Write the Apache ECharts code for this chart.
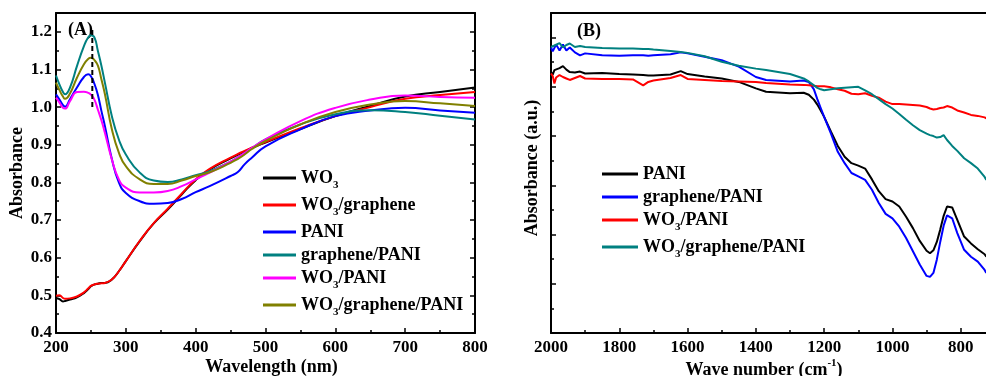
<!DOCTYPE html>
<html><head><meta charset="utf-8">
<script src="https://cdn.jsdelivr.net/npm/echarts@6/dist/echarts.min.js"></script>
<style>html,body{margin:0;padding:0;background:#fff}#c{width:986px;height:376px}</style>
</head><body><div id="c"></div>
<script>
// ---------- Panel A: UV-vis ----------
const wavelength = [200,205,210,213,220,230,240,246,250,255,260,265,270,280,290,300,320,340,360,380,400,420,450,460,470,480,500,550,600,650,700,750,800];
const aWO3 = [0.493,0.490,0.484,0.485,0.489,0.495,0.506,0.516,0.524,0.529,0.531,0.533,0.533,0.542,0.564,0.591,0.644,0.691,0.728,0.768,0.806,0.834,0.864,0.873,0.882,0.891,0.906,0.942,0.976,1.003,1.028,1.040,1.052];
const aWO3G = [0.499,0.500,0.493,0.491,0.492,0.497,0.508,0.518,0.525,0.529,0.531,0.532,0.533,0.542,0.564,0.591,0.645,0.692,0.730,0.770,0.808,0.836,0.866,0.875,0.884,0.892,0.907,0.944,0.976,1.000,1.022,1.032,1.040];
const aPANI = [1.034,1.020,1.005,1.001,1.021,1.052,1.080,1.087,1.082,1.062,1.032,0.990,0.950,0.862,0.800,0.772,0.750,0.743,0.745,0.756,0.774,0.790,0.817,0.827,0.848,0.865,0.896,0.941,0.976,0.991,0.998,0.991,0.985];
const aGPANI = [1.084,1.060,1.040,1.034,1.052,1.109,1.162,1.185,1.191,1.185,1.149,1.110,1.065,0.976,0.914,0.874,0.826,0.805,0.801,0.808,0.819,0.830,0.855,0.866,0.878,0.890,0.914,0.954,0.981,0.992,0.987,0.977,0.967];
const aWPANI = [1.025,1.012,0.998,0.996,1.016,1.040,1.041,1.038,1.033,1.020,0.993,0.965,0.932,0.861,0.808,0.786,0.773,0.773,0.777,0.790,0.808,0.826,0.855,0.866,0.878,0.891,0.914,0.963,0.998,1.020,1.031,1.027,1.025];
const aWGPANI = [1.065,1.045,1.028,1.022,1.036,1.078,1.114,1.128,1.131,1.125,1.110,1.074,1.035,0.941,0.879,0.843,0.808,0.796,0.796,0.805,0.817,0.827,0.852,0.862,0.874,0.888,0.910,0.954,0.987,1.007,1.016,1.010,1.003];
const dashLineX = [252,252];
const dashLineY = [1.0,1.205];
const namesA = ['WO3','WO3/graphene','PANI','graphene/PANI','WO3/PANI','WO3/graphene/PANI'];
const colorsA = ['#000000','#ff0000','#0000ff','#008080','#ff00ff','#808000'];

// ---------- Panel B: FTIR ----------
const wavenumber = [2000,1995,1990,1985,1975,1965,1955,1945,1930,1915,1900,1850,1800,1760,1730,1715,1700,1650,1620,1600,1550,1500,1450,1400,1370,1300,1260,1245,1230,1220,1210,1200,1180,1160,1140,1120,1100,1080,1060,1040,1020,1000,980,960,940,920,900,890,880,870,860,850,840,835,825,810,790,770,750,730,725];
const bPANI = [5.30,5.25,5.34,5.31,5.38,5.42,5.35,5.30,5.29,5.31,5.27,5.28,5.26,5.25,5.24,5.23,5.23,5.25,5.32,5.26,5.21,5.17,5.10,4.97,4.90,4.87,4.88,4.84,4.74,4.64,4.52,4.39,4.09,3.80,3.58,3.45,3.40,3.34,3.12,2.88,2.72,2.67,2.57,2.36,2.13,1.87,1.67,1.62,1.68,1.85,2.10,2.38,2.57,2.60,2.55,2.30,1.96,1.82,1.70,1.60,1.55];
const bGPANI = [5.80,5.72,5.76,5.86,5.74,5.86,5.74,5.80,5.70,5.64,5.68,5.64,5.63,5.64,5.64,5.63,5.64,5.66,5.70,5.68,5.61,5.54,5.41,5.20,5.14,5.11,5.13,5.10,4.95,4.75,4.57,4.39,4.05,3.68,3.45,3.25,3.18,3.11,2.91,2.64,2.42,2.33,2.16,1.93,1.66,1.39,1.16,1.14,1.22,1.49,1.85,2.18,2.39,2.43,2.33,2.03,1.69,1.55,1.45,1.28,1.22];
const bWPANI = [5.27,5.22,5.07,5.19,5.24,5.20,5.17,5.14,5.18,5.22,5.17,5.16,5.16,5.15,5.03,5.10,5.13,5.18,5.24,5.16,5.14,5.12,5.11,5.10,5.08,5.05,5.04,5.03,5.02,5.01,5.01,5.01,4.99,4.95,4.92,4.86,4.85,4.87,4.82,4.78,4.70,4.65,4.65,4.64,4.63,4.62,4.59,4.56,4.54,4.55,4.57,4.58,4.61,4.61,4.58,4.52,4.48,4.43,4.41,4.38,4.36];
const bWGPANI = [5.81,5.83,5.84,5.86,5.89,5.80,5.85,5.88,5.81,5.83,5.81,5.79,5.78,5.78,5.77,5.77,5.76,5.73,5.71,5.69,5.62,5.51,5.43,5.37,5.34,5.26,5.17,5.11,5.03,4.98,4.95,4.93,4.95,4.97,4.98,4.99,5.00,4.93,4.85,4.75,4.65,4.56,4.45,4.33,4.22,4.12,4.05,4.02,4.00,3.97,3.98,4.02,3.92,3.88,3.80,3.70,3.55,3.45,3.34,3.17,3.11];
const namesB = ['PANI','graphene/PANI','WO3/PANI','WO3/graphene/PANI'];
const colorsB = ['#000000','#0000ff','#ff0000','#008080'];

const FONT = 'Liberation Serif';
const pair = (xs, ys) => xs.map((x, i) => [x, ys[i]]);
const richText = {
  n: {fontFamily: FONT, fontWeight: 'bold', fontSize: 18, color: '#000', lineHeight: 18, verticalAlign: 'top'},
  s: {fontFamily: FONT, fontWeight: 'bold', fontSize: 11, color: '#000', lineHeight: 11, verticalAlign: 'top', padding: [11,0,0,0]}
};
function fmtName(name) {
  const t = name.replace(/^B:/, '');
  return t.split(/(WO3)/).map(p => p === 'WO3' ? '{n|WO}{s|3}' : (p ? '{n|' + p + '}' : '')).join('');
}
const tickLabel = {fontFamily: FONT, fontWeight: 'bold', fontSize: 17, color: '#000'};
const axLine = {show: true, lineStyle: {color: '#000', width: 2}};
const tick = {show: true, inside: true, length: 5, lineStyle: {color: '#000', width: 1.5}};
const minor = {show: true, splitNumber: 2, length: 3, lineStyle: {color: '#000', width: 1.5}};

const seriesA = [aWO3, aWO3G, aPANI, aGPANI, aWPANI, aWGPANI].map((vals, i) => ({
  name: namesA[i], type: 'line', xAxisIndex: 0, yAxisIndex: 0, symbol: 'none', smooth: true,
  data: pair(wavelength, vals), lineStyle: {color: colorsA[i], width: 2}, itemStyle: {color: colorsA[i]}
}));
seriesA.push({
  name: 'dash', type: 'line', xAxisIndex: 0, yAxisIndex: 0, symbol: 'none',
  data: pair(dashLineX, dashLineY), lineStyle: {color: '#000', width: 2, type: [5, 3]}
});
const seriesB = [bPANI, bGPANI, bWPANI, bWGPANI].map((vals, i) => ({
  name: 'B:' + namesB[i], type: 'line', xAxisIndex: 2, yAxisIndex: 2, symbol: 'none',
  data: pair(wavenumber, vals), lineStyle: {color: colorsB[i], width: 2}, itemStyle: {color: colorsB[i]}
}));

const chart = echarts.init(document.getElementById('c'));
chart.setOption({
  animation: false,
  backgroundColor: '#fff',
  grid: [
    {left: 56, width: 419, top: 13, bottom: 43, outerBoundsMode: 'none', containLabel: false},
    {left: 551, width: 478, top: 13, bottom: 43, outerBoundsMode: 'none', containLabel: false}
  ],
  xAxis: [
    {gridIndex: 0, type: 'value', min: 200, max: 800, interval: 100, position: 'bottom',
     name: 'Wavelength (nm)', nameLocation: 'middle', nameGap: 25, nameMoveOverlap: false,
     nameTextStyle: {fontFamily: FONT, fontWeight: 'bold', fontSize: 18, color: '#000', padding: [0,0,0,12]},
     axisLine: axLine, axisTick: tick, minorTick: minor, splitLine: {show: false},
     axisLabel: Object.assign({margin: 6, formatter: v => String(v)}, tickLabel)},
    {gridIndex: 0, type: 'value', min: 200, max: 800, position: 'top',
     axisLine: axLine, axisTick: {show: false}, axisLabel: {show: false}, splitLine: {show: false}},
    {gridIndex: 1, type: 'value', min: 600, max: 2000, interval: 200, inverse: true, position: 'bottom',
     name: '{n|Wave number (cm}{sup|-1}{n|)}', nameLocation: 'middle', nameGap: 25, nameMoveOverlap: false,
     nameTextStyle: {padding: [0,52,0,0], rich: {
       n: {fontFamily: FONT, fontWeight: 'bold', fontSize: 18, color: '#000', lineHeight: 18, verticalAlign: 'top', padding: [3,0,0,0]},
       sup: {fontFamily: FONT, fontWeight: 'bold', fontSize: 11, color: '#000', lineHeight: 11, verticalAlign: 'top'}}},
     axisLine: axLine, axisTick: tick, minorTick: minor, splitLine: {show: false},
     axisLabel: Object.assign({margin: 6, formatter: v => (v < 700 ? '' : String(v))}, tickLabel)},
    {gridIndex: 1, type: 'value', min: 600, max: 2000, inverse: true, position: 'top',
     axisLine: axLine, axisTick: {show: false}, axisLabel: {show: false}, splitLine: {show: false}}
  ],
  yAxis: [
    {gridIndex: 0, type: 'value', min: 0.4, max: 1.25, interval: 0.1, position: 'left',
     name: 'Absorbance', nameLocation: 'middle', nameGap: 30, nameMoveOverlap: false,
     nameTextStyle: {fontFamily: FONT, fontWeight: 'bold', fontSize: 18, color: '#000'},
     axisLine: axLine, axisTick: tick, minorTick: minor, splitLine: {show: false},
     axisLabel: Object.assign({margin: 4, showMaxLabel: false,
       formatter: v => Math.abs(v * 10 - Math.round(v * 10)) < 1e-6 ? v.toFixed(1) : ''}, tickLabel)},
    {gridIndex: 0, type: 'value', min: 0.4, max: 1.25, interval: 0.1, position: 'right',
     axisLine: axLine, axisTick: tick, minorTick: minor, splitLine: {show: false}, axisLabel: {show: false}},
    {gridIndex: 1, type: 'value', min: 0, max: 6.5, interval: 1, position: 'left',
     name: 'Absorbance (a.u.)', nameLocation: 'middle', nameGap: 10, nameMoveOverlap: false,
     nameTextStyle: {fontFamily: FONT, fontWeight: 'bold', fontSize: 18, color: '#000', padding: [0,0,0,10]},
     axisLine: axLine, axisTick: tick, minorTick: minor, splitLine: {show: false}, axisLabel: {show: false}}
  ],
  legend: [
    {data: namesA, orient: 'vertical', left: 258, top: 164, icon: 'rect', itemWidth: 33, itemHeight: 3, itemGap: 5,
     formatter: fmtName, textStyle: {rich: richText}},
    {data: namesB.map(n => 'B:' + n), orient: 'vertical', left: 597, top: 160, icon: 'rect', itemWidth: 36, itemHeight: 3, itemGap: 5,
     formatter: fmtName, textStyle: {rich: richText}}
  ],
  graphic: [
    {type: 'text', left: 68, top: 21, style: {text: '(A)', font: 'bold 18px "Liberation Serif"', fill: '#000'}},
    {type: 'text', left: 577, top: 22, style: {text: '(B)', font: 'bold 18px "Liberation Serif"', fill: '#000'}}
  ],
  series: seriesA.concat(seriesB)
});
</script></body></html>
